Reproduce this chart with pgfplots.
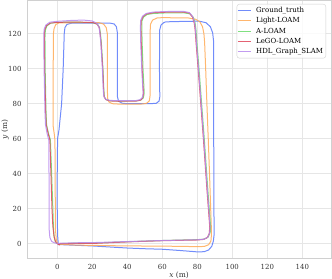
\documentclass[border=0pt]{standalone}
\usepackage{fontspec}
\setmainfont{DejaVu Serif}
\usepackage{pgfplots}
\pgfplotsset{compat=1.18}
\definecolor{cgt}{HTML}{5878FA}
\definecolor{clight}{HTML}{FFAA55}
\definecolor{caloam}{HTML}{6ADB6A}
\definecolor{clego}{HTML}{E0475A}
\definecolor{chdl}{HTML}{B88AEE}
\definecolor{gridc}{HTML}{E6E6E6}
\definecolor{framec}{HTML}{D0D0D0}
\definecolor{tickc}{HTML}{333333}
\begin{document}
\begin{tikzpicture}
\begin{axis}[
  name=ax,
  scale only axis, width=303.7bp, height=258.2bp,
  xmin=-17.1, xmax=156.4, ymin=-8.6, ymax=139.0,
  xtick={0,20,...,140}, ytick={0,20,...,120},
  grid=major, major grid style={draw=gridc, line width=0.8bp},
  axis line style={draw=framec, line width=0.8bp},
  major tick length=0pt,
  /pgf/number format/assume math mode=true,
  tick label style={font=\fontsize{7}{8}\selectfont, text=tickc},
  xticklabel style={yshift=-2.2bp},
  yticklabel style={xshift=-2.3bp},
  xlabel={\textit{x} (m)}, ylabel={\textit{y} (m)},
  label style={font=\fontsize{7.5}{9}\selectfont, text=tickc},
  xlabel style={at={(axis description cs:0.5,-0.0631)}, anchor=center},
  ylabel style={at={(axis description cs:-0.0734,0.5)}, anchor=center},
  legend style={at={(axis description cs:1,1)}, anchor=north east, xshift=-5bp, yshift=-3.5bp,
    draw=framec, rounded corners=2.5bp, fill=white, fill opacity=0.8, text opacity=1,
    font=\fontsize{7}{8}\selectfont, inner sep=1bp, row sep=0pt,
    nodes={inner sep=1.75bp, text height=5.3bp, text depth=1.6bp},
    /tikz/every odd column/.append style={column sep=2.5bp}},
  legend cell align=left,
  legend image code/.code={\draw[#1] (0bp,0bp) -- (13bp,0bp);},
  every axis plot/.append style={line width=1bp, line join=round, draw opacity=0.85},
]
\addplot[cgt] coordinates {
(0.5,-0.5)(10,-0.9)(20,-1.3)(30,-1.9)(40,-2.5)(50,-2.9)(60,-3.2)(70,-3.9)(80,-4.7)(84,-4.6)(86.5,-3.6)(88.3,-1.5)(89.2,1.5)(89.6,5)(89.5,30)(89.4,60)(89.4,90)(89.3,116)(88.8,120.5)(87.5,124)(85,126.3)(81,127.2)(70,127.0)(62,126.8)(60.8,126.3)(59.3,125)(58.5,122)(58.4,100)(58.6,84)(58.2,81.5)(56.5,80.2)(52,80)(40,80)(37,80.3)(35,81.5)(34.4,84)(34.3,100)(34.3,121)(33.8,124)(32.5,125.6)(30,126.1)(20,126.1)(8,126)(5.5,125.3)(4.4,123.5)(4,120)(3.4,100)(2.5,80)(1.0,65)(0.2,60)(0,40)(0,20)(0.2,5)(0.5,1)(0.5,-0.5)
};
\addlegendentry{Ground\_truth}
\addplot[clight] coordinates {
(0.5,-0.3)(10,-0.8)(20,-1.0)(40,-1.3)(60,-1.4)(80,-1.7)(84,-1.6)(86.5,-0.6)(87.8,1.5)(88.1,5)(88,10)(87,40)(86.3,59.3)(85.5,80)(84.8,100)(84.2,115)(83.8,120)(83,124)(81.5,126.8)(79,128.3)(75,129)(60,129.2)(57,129)(54.5,127.8)(53.3,125.5)(53,120)(53,100)(53.1,85)(52.6,81.6)(51,80.2)(48,79.8)(35,79.8)(31.5,80)(29.5,81)(28.8,83)(28.6,90)(28.6,120)(28,123.5)(26.5,125.5)(24,126.3)(10,126.3)(1,126.2)(-0.8,125.3)(-1.8,123)(-2.2,120)(-2.3,100)(-2.4,75)(-2.3,67)(-1.6,62)(-1.3,59)(-1.2,40)(-1.1,20)(-1,8)(-0.5,2)(0.5,-0.3)
};
\addlegendentry{Light-LOAM}
\addplot[caloam] coordinates {
(0,0)(10,0.3)(20,0.3)(40,1.1)(60,1.8)(80,2.3)(84,2.6)(86.3,3.8)(87.4,6.5)(87.6,10)(86.1,30)(84.7,50)(84,60)(82.5,80)(81,100)(79.8,115)(79.3,122)(78.8,126)(77.8,129.3)(75.8,131.4)(72,132)(62,131.9)(55,131.6)(51.3,131)(49.3,129.5)(48.4,127.3)(48.3,124)(48.5,115)(49,100)(49.5,90)(49.7,86)(49.2,83.4)(47.8,82.1)(45,81.6)(35,81.5)(30,81.7)(27.8,82.4)(26.9,84)(26.6,88)(26.1,100)(25.2,115)(24.7,120)(24.2,123.5)(23,125.4)(20.5,126.3)(10,126.7)(0,126.5)(-3.8,126)(-5.9,124.5)(-6.8,122)(-7,118)(-6.9,100)(-6.4,75)(-6.1,68)(-5,63)(-3.9,59.3)(-3.2,40)(-2.5,20)(-2.2,10)(-1.8,4)(-1.1,1.2)(0,0)
};
\addlegendentry{A-LOAM}
\addplot[clego] coordinates {
(0,0)(10,0.1)(20,0.1)(40,1.0)(60,1.7)(80,2.1)(83.5,2.4)(85.8,3.5)(86.9,6)(87.1,10)(85.6,30)(84.2,50)(83.5,60)(82,80)(80.5,100)(79.3,115)(78.8,122)(78.3,126)(77.3,129.5)(75.5,131.8)(72,132.4)(62,132.3)(55,132)(51,131.3)(49,129.8)(48,127.5)(47.8,124)(48,115)(48.5,100)(49,90)(49.3,86)(48.8,83.3)(47.5,82)(45,81.5)(35,81.4)(30,81.6)(27.8,82.3)(26.8,84)(26.5,88)(26,100)(25,115)(24.5,120)(24,123.5)(22.8,125.5)(20.5,126.4)(10,126.7)(0,126.5)(-4,126.1)(-6.2,124.6)(-7.2,122)(-7.4,118)(-7.2,100)(-6.6,75)(-6.3,68)(-5.2,63)(-4.2,59.3)(-3.6,40)(-3,20)(-2.5,10)(-1.8,4)(-1,1.2)(0,0)(1.5,-0.8)
};
\addlegendentry{LeGO-LOAM}
\addplot[chdl] coordinates {
(0.5,0.2)(10,0.5)(20,0.6)(40,1.2)(60,1.8)(80,2.2)(83.7,2.5)(86,3.7)(87.1,6.3)(87.3,10)(85.8,30)(84.4,50)(83.7,60)(82.2,80)(80.7,100)(79.5,115)(79,122)(78.5,126.2)(77.4,129.8)(75.5,132.1)(72,132.8)(62,132.7)(55,132.4)(50.8,131.6)(48.7,130)(47.7,127.6)(47.5,124)(47.7,115)(48.3,100)(48.8,90)(49.1,86)(48.6,83.5)(47.3,82.3)(45,81.8)(35,81.7)(30,81.9)(27.6,82.6)(26.6,84.2)(26.3,88)(25.8,100)(24.9,115)(24.4,120)(23.9,123.8)(22.6,126)(20,127.3)(15,127.8)(8,127.6)(0,127.1)(-4.2,126.6)(-6.5,125)(-7.5,122.5)(-7.7,118)(-7.5,100)(-7,75)(-6.7,68)(-5.8,63)(-4.8,59)(-4.7,40)(-4.7,20)(-4.6,8)(-4.2,3.5)(-3.2,1.3)(-1.5,0.4)(0.5,0.2)
};
\addlegendentry{HDL\_Graph\_SLAM}
\end{axis}
\pgfresetboundingbox
\path[use as bounding box] ([xshift=-27.3bp,yshift=-20.3bp]ax.south west) rectangle ([xshift=1bp,yshift=0.5bp]ax.north east);
\end{tikzpicture}
\end{document}
